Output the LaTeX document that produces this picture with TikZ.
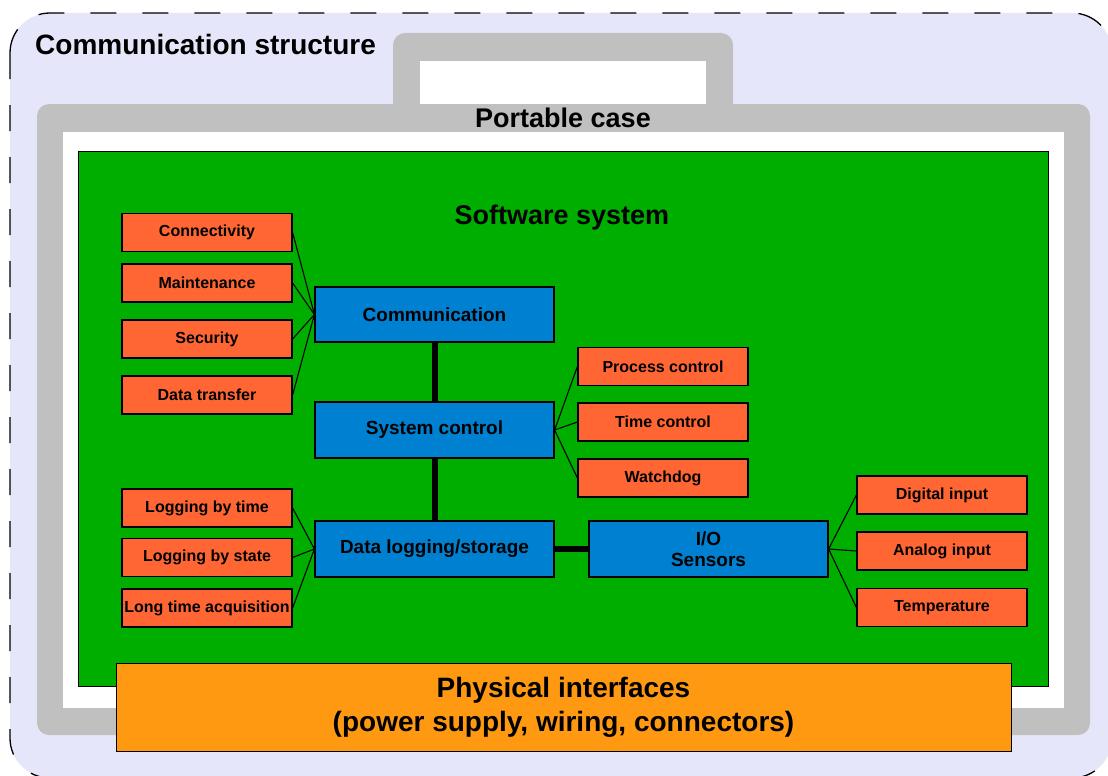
\documentclass[tikz,border=0pt]{standalone}
\usepackage{fontspec}
\setmainfont{Liberation Sans}
\definecolor{lav}{HTML}{E6E6FA}
\definecolor{casegrey}{HTML}{C0C0C0}
\definecolor{swgreen}{HTML}{00AE00}
\definecolor{modblue}{HTML}{0080D0}
\definecolor{featred}{HTML}{FF6633}
\definecolor{physorange}{HTML}{FF9912}
\newcommand{\fs}[1]{\fontsize{#1}{#1}\selectfont\bfseries}
\tikzset{
  modbox/.style={draw=black, line width=1.2pt, fill=modblue, minimum width=239pt, minimum height=55pt, inner sep=0pt, align=center, font=\fs{19}},
  featbox/.style={draw=black, line width=1.2pt, fill=featred, minimum width=170pt, minimum height=38pt, inner sep=0pt, font=\fs{16}},
  thin link/.style={draw=black, line width=1.1pt},
  thick link/.style={draw=black, line width=6pt},
  title/.style={font=\fs{27}, inner sep=0pt}
}
\begin{document}
\begin{tikzpicture}[x=1pt, y=-1pt]
\useasboundingbox (0,0) rectangle (1108,776);
% outer communication structure
\draw[fill=lav, draw=black, line width=1.3pt, dash pattern=on 26pt off 26pt, rounded corners=40pt] (10,13) rectangle (1112,778);
\node[title, font=\fs{28}, anchor=base west] (commstruct) at (35,55) {Communication structure};
% portable case
\fill[casegrey, rounded corners=12pt] (393,33) rectangle (733,125);
\fill[casegrey, rounded corners=12pt] (37,104) rectangle (1090,735);
\fill[white] (420,61) rectangle (706,104);
\fill[white] (63,132) rectangle (1064,708);
\node[title, anchor=base] (portable) at (563,127) {Portable case};
% software system
\draw[fill=swgreen, draw=black, line width=1pt] (78,151) rectangle (1048,686);
\node[title, anchor=base] (software) at (562,224) {Software system};
% modules
\node[modbox] (comm) at (434.5,314.5) {Communication};
\node[modbox, minimum height=56pt] (sysctl) at (434.5,430) {System control};
\node[modbox, minimum height=56pt] (datalog) at (434.5,549) {Data logging/storage};
\node[modbox, minimum height=56pt] (io) at (708.5,549) {I/O\\[2pt]Sensors};
% features
\node[featbox] (conn) at (207,232.5) {Connectivity};
\node[featbox] (maint) at (207,283) {Maintenance};
\node[featbox] (sec) at (207,339) {Security};
\node[featbox] (dtrans) at (207,395) {Data transfer};
\node[featbox] (logtime) at (207,508) {Logging by time};
\node[featbox] (logstate) at (207,557.5) {Logging by state};
\node[featbox] (longacq) at (207,608) {Long time acquisition};
\node[featbox] (proc) at (663,366.5) {Process control};
\node[featbox] (timec) at (663,422) {Time control};
\node[featbox] (watch) at (663,478) {Watchdog};
\node[featbox] (dig) at (942,495) {Digital input};
\node[featbox] (ana) at (942,551) {Analog input};
\node[featbox] (temp) at (942,607.5) {Temperature};
% links
\foreach \f in {conn,maint,sec,dtrans} \path[thin link] (\f.east) -- (comm.west);
\foreach \f in {logtime,logstate,longacq} \path[thin link] (\f.east) -- (datalog.west);
\foreach \f in {proc,timec,watch} \path[thin link] (sysctl.east) -- (\f.west);
\foreach \f in {dig,ana,temp} \path[thin link] (io.east) -- (\f.west);
\path[thick link] (comm.south) -- (sysctl.north);
\path[thick link] (sysctl.south) -- (datalog.north);
\path[thick link] (datalog.east) -- (io.west);
% physical interfaces
\node[draw=black, line width=1pt, fill=physorange, minimum width=895pt, minimum height=88pt, inner sep=0pt, align=center, font=\fs{28}] (phys) at (563.5,707.5) {Physical interfaces\\[6pt](power supply, wiring, connectors)};
\end{tikzpicture}
\end{document}
